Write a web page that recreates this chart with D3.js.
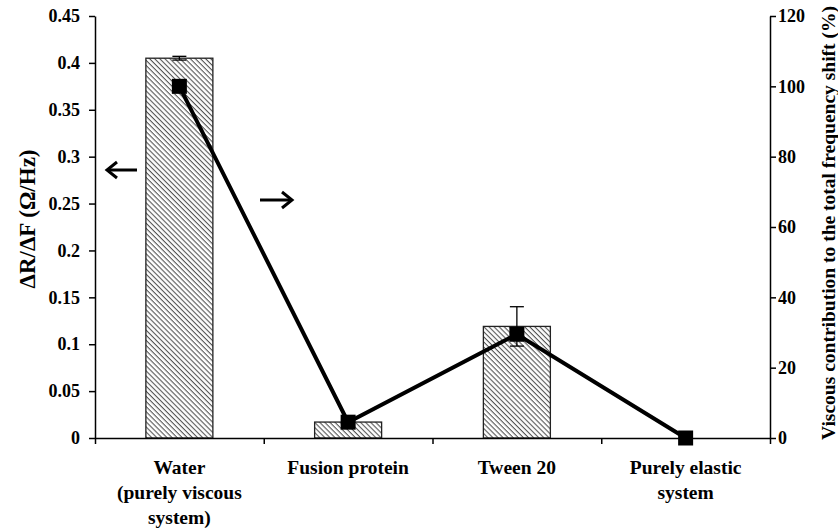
<!DOCTYPE html>
<html>
<head>
<meta charset="utf-8">
<script src="https://cdn.jsdelivr.net/npm/d3@7"></script>
<style>
  body { margin: 0; background: #fff; }
  text { font-family: "Liberation Serif", "Times New Roman", serif; font-weight: bold; }
</style>
</head>
<body>
<svg id="chart" width="838" height="529"></svg>
<script>
var categories = [["Water", "(purely viscous", "system)"], ["Fusion protein"], ["Tween 20"], ["Purely elastic", "system"]];
var ratio = [0.405, 0.017, 0.119, null];       // ΔR/ΔF, left axis
var ratioErr = [0.002, 0, 0.021, null];
var viscous = [100, 4.5, 29.5, 0];            // %, right axis
var leftTicks = [0, 0.05, 0.1, 0.15, 0.2, 0.25, 0.3, 0.35, 0.4, 0.45];
var rightTicks = [0, 20, 40, 60, 80, 100, 120];

var svg = d3.select("#chart");
var plotLeft = 95, plotRight = 770, plotTop = 16, plotBottom = 438;

var x = d3.scaleBand().domain(d3.range(categories.length)).range([plotLeft, plotRight]);
var yL = d3.scaleLinear().domain([0, 0.45]).range([plotBottom, plotTop]);
var yR = d3.scaleLinear().domain([0, 120]).range([plotBottom, plotTop]);

var defs = svg.append("defs");
var pat = defs.append("pattern")
  .attr("id", "hatch")
  .attr("patternUnits", "userSpaceOnUse")
  .attr("width", 3.6).attr("height", 3.6)
  .attr("patternTransform", "rotate(45)");
pat.append("rect").attr("width", 3.6).attr("height", 3.6).attr("fill", "#fff");
pat.append("line").attr("x1", 0).attr("y1", 0).attr("x2", 3.6).attr("y2", 0)
  .attr("stroke", "#555").attr("stroke-width", 2.2);

// bars
var barW = 67;
var bars = categories.map(function (c, i) { return i; }).filter(function (i) { return ratio[i] != null; });
svg.selectAll("rect.bar").data(bars).enter().append("rect")
  .attr("class", "bar")
  .attr("x", function (i) { return x(i) + x.bandwidth() / 2 - barW / 2; })
  .attr("y", function (i) { return yL(ratio[i]); })
  .attr("width", barW)
  .attr("height", function (i) { return yL(0) - yL(ratio[i]); })
  .attr("fill", "url(#hatch)")
  .attr("stroke", "#222").attr("stroke-width", 1.3);

// error bars
var eb = svg.append("g").attr("stroke", "#000").attr("stroke-width", 1.3);
bars.filter(function (i) { return ratioErr[i] > 0; }).forEach(function (i) {
  var cx = x(i) + x.bandwidth() / 2;
  var y1 = yL(ratio[i] + ratioErr[i]), y2 = yL(ratio[i] - ratioErr[i]);
  eb.append("line").attr("x1", cx).attr("x2", cx).attr("y1", y1).attr("y2", y2);
  eb.append("line").attr("x1", cx - 7).attr("x2", cx + 7).attr("y1", y1).attr("y2", y1);
  eb.append("line").attr("x1", cx - 7).attr("x2", cx + 7).attr("y1", y2).attr("y2", y2);
});

// line series
var line = d3.line()
  .x(function (d, i) { return x(i) + x.bandwidth() / 2; })
  .y(function (d) { return yR(d); });
svg.append("path").datum(viscous)
  .attr("d", line)
  .attr("fill", "none").attr("stroke", "#000").attr("stroke-width", 4);
var sq = 15;
svg.selectAll("rect.pt").data(viscous).enter().append("rect")
  .attr("class", "pt")
  .attr("x", function (d, i) { return x(i) + x.bandwidth() / 2 - sq / 2; })
  .attr("y", function (d) { return yR(d) - sq / 2; })
  .attr("width", sq).attr("height", sq)
  .attr("fill", "#000");

// axes
var axL = svg.append("g").attr("transform", "translate(" + plotLeft + ",0)")
  .call(d3.axisLeft(yL).tickValues(leftTicks).tickSize(6).tickSizeOuter(0)
    .tickFormat(function (d) { return d === 0 ? "0" : String(+d.toFixed(2)); }));
var axR = svg.append("g").attr("transform", "translate(" + plotRight + ",0)")
  .call(d3.axisRight(yR).tickValues(rightTicks).tickSize(6).tickSizeOuter(0));
var axX = svg.append("g").attr("transform", "translate(0," + plotBottom + ")")
  .call(d3.axisBottom(d3.scaleLinear().domain([0, 4]).range([plotLeft, plotRight]))
    .tickValues([0, 1, 2, 3, 4]).tickSize(6).tickSizeOuter(0).tickFormat(""));
[axL, axR, axX].forEach(function (a) {
  a.select(".domain").attr("stroke", "#000").attr("stroke-width", 1.5);
  a.selectAll(".tick line").attr("stroke", "#000").attr("stroke-width", 1.5);
  a.selectAll("text").attr("font-size", 18).attr("font-weight", "bold")
    .attr("font-family", "Liberation Serif, serif").attr("fill", "#000");
});
axL.selectAll(".tick text").attr("x", -15);
axR.selectAll(".tick text").attr("x", 8);

// category labels
categories.forEach(function (c, i) {
  var t = svg.append("text").attr("text-anchor", "middle").attr("font-size", 19.5).attr("fill", "#000");
  c.forEach(function (s, k) {
    t.append("tspan").attr("x", x(i) + x.bandwidth() / 2).attr("y", 474 + k * 25).text(s);
  });
});

// axis titles
svg.append("text").attr("transform", "translate(35,219) rotate(-90)")
  .attr("text-anchor", "middle").attr("font-size", 23).attr("fill", "#000")
  .text("ΔR/ΔF (Ω/Hz)");
svg.append("text").attr("transform", "translate(835,223) rotate(-90)")
  .attr("text-anchor", "middle").attr("font-size", 19.5).attr("fill", "#000")
  .text("Viscous contribution to the total frequency shift (%)");

// arrows
function arrow(x1, x2, y) {
  var dir = x2 > x1 ? 1 : -1;
  var g = svg.append("g").attr("stroke", "#000").attr("stroke-width", 3).attr("fill", "none");
  g.append("line").attr("x1", x1).attr("x2", x2 - dir * 1).attr("y1", y).attr("y2", y);
  g.append("path").attr("d", "M" + (x2 - dir * 10) + "," + (y - 8) + "L" + x2 + "," + y + "L" + (x2 - dir * 10) + "," + (y + 8));
}
arrow(137, 107, 170);
arrow(260, 292, 200);
</script>
</body>
</html>
